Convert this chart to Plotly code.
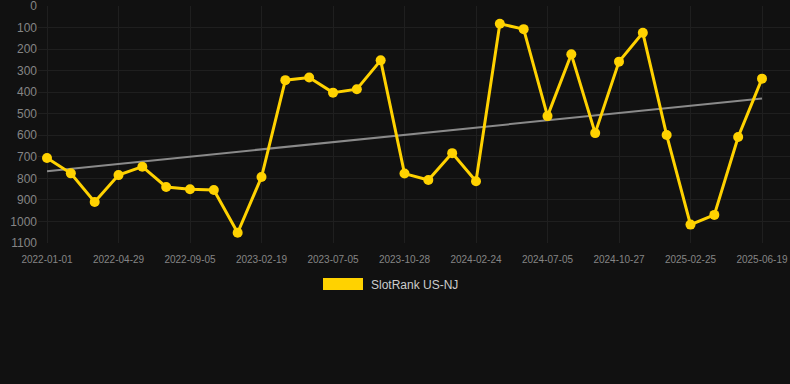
import numpy as np
import plotly.graph_objects as go

dates = [
    "2022-01-01", "2022-02-09", "2022-03-21", "2022-04-29", "2022-06-11", "2022-07-24",
    "2022-09-05", "2022-11-01", "2022-12-27", "2023-02-19", "2023-04-05", "2023-05-20",
    "2023-07-05", "2023-08-12", "2023-09-20", "2023-10-28", "2023-12-07", "2024-01-16",
    "2024-02-24", "2024-04-08", "2024-05-22", "2024-07-05", "2024-08-12", "2024-09-19",
    "2024-10-27", "2024-12-06", "2025-01-15", "2025-02-25", "2025-04-04", "2025-05-12",
    "2025-06-19",
]
ranks = [
    706, 777, 910, 785, 746, 840, 851, 854, 1053, 794, 344, 332, 402, 386, 252, 778,
    808, 683, 814, 82, 107, 511, 224, 590, 258, 124, 599, 1015, 970, 608, 337,
]
series_name = "SlotRank US-NJ"
y_ticks = [0, 100, 200, 300, 400, 500, 600, 700, 800, 900, 1000, 1100]
x_tick_labels = dates[::3]

idx = np.arange(len(ranks))
slope, intercept = np.polyfit(idx, ranks, 1)
trend = slope * idx + intercept

fig = go.Figure()
fig.add_trace(go.Scatter(
    x=dates, y=trend, mode="lines",
    line=dict(color="#8a8a8a", width=2),
    hoverinfo="skip", showlegend=False,
))
fig.add_trace(go.Scatter(
    x=dates, y=ranks, mode="lines+markers", name=series_name,
    line=dict(color="#FFD200", width=3),
    marker=dict(color="#FFD200", size=10),
    showlegend=False,
))

# legend drawn manually (rectangle swatch)
fig.add_shape(type="rect", xref="paper", yref="paper",
              x0=(323 - 38) / 752, x1=(363 - 38) / 752,
              y0=(243 - 290) / 237, y1=(243 - 278) / 237,
              fillcolor="#FFD200", line=dict(width=0))
fig.add_annotation(xref="paper", yref="paper",
                   x=(369 - 38) / 752, y=(243 - 284.5) / 237,
                   xanchor="left", yanchor="middle", showarrow=False,
                   text=series_name,
                   font=dict(color="#cccccc", size=12, family="Liberation Sans, Arial, sans-serif"))

fig.update_layout(
    width=790, height=384,
    margin=dict(l=38, r=0, t=6, b=141),
    paper_bgcolor="#111111", plot_bgcolor="#111111",
    font=dict(family="Liberation Sans, Arial, sans-serif", color="#858585"),
    showlegend=False,
    xaxis=dict(
        type="category", categoryorder="array", categoryarray=dates,
        tickvals=x_tick_labels, ticktext=x_tick_labels,
        range=[-0.378, 31.175],
        showgrid=True, gridcolor="#1f1f1f", gridwidth=1,
        zeroline=False, showline=False,
        tickfont=dict(size=10, color="#858585"),
        ticks="", ticklabelstandoff=9,
    ),
    yaxis=dict(
        range=[1100.5, -0.5], tickvals=y_ticks,
        showgrid=True, gridcolor="#1f1f1f", gridwidth=1,
        zeroline=False, showline=False,
        tickfont=dict(size=12, color="#858585"),
        ticks="", ticklabeloverflow="allow",
    ),
)

fig.write_html(
    "out.html",
    config={"displayModeBar": False},
    post_script="document.body.style.margin='0';document.body.style.background='#111111';",
)
